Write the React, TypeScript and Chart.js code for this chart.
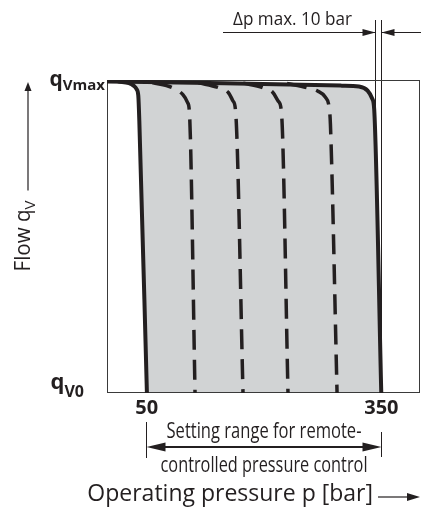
import React, { useEffect, useRef } from 'react';
import { Chart, registerables } from 'chart.js';

Chart.register(...registerables);

// ---------- data ----------
const xMin = 0;
const xMax = 400; // operating pressure, bar
const yMin = 0;
const yMax = 100; // flow, % of qVmax
const xTickValues = [50, 350];
const xTickLabels = ['50', '350'];
const deltaPLines = [342, 350];
const settingRange = [50, 350];

// upper envelope (top line + right solid characteristic)
const envelopeX = [0, 150, 300, 322, 333, 339, 341.5, 350.5];
const envelopeY = [99.5, 99.0, 98.2, 97.9, 96.6, 94.0, 90.5, 0];
// left solid characteristic (minimum setting)
const minCurveX = [15, 28, 34, 38, 40, 41.3, 51];
const minCurveY = [99.5, 99.0, 98.2, 97.0, 95.0, 87.0, 0];
// dashed intermediate settings
const set1X = [58, 84, 97, 103, 105.5, 112.5];
const set1Y = [99.2, 97.5, 95.3, 92.8, 89.0, 0];
const set2X = [117, 142, 155, 161, 164.5, 173.8];
const set2Y = [99.1, 97.6, 96.0, 93.3, 89.5, 0];
const set3X = [174, 199.5, 212, 219, 223, 231.3];
const set3Y = [99.0, 97.5, 96.0, 93.2, 89.5, 0];
const set4X = [230, 255, 269, 279, 284, 285.5, 294];
const set4Y = [98.9, 97.6, 96.5, 94.5, 91.0, 86.0, 0];

// ---------- text ----------
const yTopLabel = ['q', 'Vmax'];
const yBottomLabel = ['q', 'V0'];
const yAxisTitle = ['Flow q', 'V'];
const xAxisTitle = 'Operating pressure p [bar]';
const deltaPText = '\u0394p max. 10 bar';
const settingText = ['Setting range for remote-', 'controlled pressure control'];

const FONT = '"Open Sans", "Liberation Sans", Arial, sans-serif';
const INK = '#231f20';
const GRAY = '#d1d3d4';

const pts = (xs: number[], ys: number[]) => xs.map((x, i) => ({ x, y: ys[i] }));

function trace(ctx: CanvasRenderingContext2D, list: any[], reverse: boolean, first: boolean) {
  const arr = reverse ? [...list].reverse() : list;
  arr.forEach((p: any, i: number) => {
    if (i === 0) {
      if (first) ctx.moveTo(p.x, p.y);
      else ctx.lineTo(p.x, p.y);
      return;
    }
    const q = arr[i - 1];
    if (!reverse) {
      ctx.bezierCurveTo(q.cp2x ?? q.x, q.cp2y ?? q.y, p.cp1x ?? p.x, p.cp1y ?? p.y, p.x, p.y);
    } else {
      ctx.bezierCurveTo(q.cp1x ?? q.x, q.cp1y ?? q.y, p.cp2x ?? p.x, p.cp2y ?? p.y, p.x, p.y);
    }
  });
}

function arrowHead(ctx: CanvasRenderingContext2D, tipX: number, tipY: number, dir: 'l' | 'r' | 'u', len: number, half: number) {
  ctx.beginPath();
  ctx.moveTo(tipX, tipY);
  if (dir === 'r') {
    ctx.lineTo(tipX - len, tipY - half);
    ctx.lineTo(tipX - len, tipY + half);
  } else if (dir === 'l') {
    ctx.lineTo(tipX + len, tipY - half);
    ctx.lineTo(tipX + len, tipY + half);
  } else {
    ctx.lineTo(tipX - half, tipY + len);
    ctx.lineTo(tipX + half, tipY + len);
  }
  ctx.closePath();
  ctx.fill();
}

function subLabel(ctx: CanvasRenderingContext2D, right: number, base: number, parts: string[], mainSize: number, subSize: number, drop: number) {
  const mf = `bold ${mainSize}px ${FONT}`;
  const sf = `bold ${subSize}px ${FONT}`;
  ctx.font = mf;
  const w1 = ctx.measureText(parts[0]).width;
  ctx.font = sf;
  const w2 = ctx.measureText(parts[1]).width;
  const x0 = right - w1 - w2;
  ctx.font = mf;
  ctx.fillText(parts[0], x0, base);
  ctx.font = sf;
  ctx.fillText(parts[1], x0 + w1, base + drop);
}

const annotate = {
  id: 'annotate',
  beforeDatasetsDraw(chart: any) {
    const { ctx, chartArea: a, scales } = chart;
    const xs = scales.x;
    ctx.save();
    ctx.strokeStyle = INK;
    ctx.lineWidth = 1;
    deltaPLines.forEach((v) => {
      const px = Math.round(xs.getPixelForValue(v)) + 0.5;
      ctx.beginPath();
      ctx.moveTo(px, 20);
      ctx.lineTo(px, a.bottom);
      ctx.stroke();
    });
    const up = chart.getDatasetMeta(0);
    const lo = chart.getDatasetMeta(1);
    up.dataset.updateControlPoints(a, 'x');
    lo.dataset.updateControlPoints(a, 'x');
    ctx.beginPath();
    trace(ctx, lo.data, false, true);
    trace(ctx, up.data, true, false);
    ctx.closePath();
    ctx.fillStyle = GRAY;
    ctx.fill();
    ctx.strokeStyle = '#3a3a3a';
    ctx.lineWidth = 1;
    ctx.strokeRect(a.left + 0.5, a.top + 0.5, a.right - a.left - 1, a.bottom - a.top - 1);
    ctx.restore();
  },
  afterDatasetsDraw(chart: any) {
    const { ctx, scales } = chart;
    const xs = scales.x;
    ctx.save();
    ctx.fillStyle = INK;
    ctx.strokeStyle = INK;
    ctx.textBaseline = 'alphabetic';

    // delta p annotation
    const l1 = Math.round(xs.getPixelForValue(deltaPLines[0])) + 0.5;
    const l2 = Math.round(xs.getPixelForValue(deltaPLines[1])) + 0.5;
    ctx.lineWidth = 1;
    ctx.beginPath();
    ctx.moveTo(223, 32.5);
    ctx.lineTo(l1, 32.5);
    ctx.moveTo(l2, 32.5);
    ctx.lineTo(421, 32.5);
    ctx.stroke();
    arrowHead(ctx, l1, 32.5, 'r', 13, 3.5);
    arrowHead(ctx, l2, 32.5, 'l', 13, 3.5);
    ctx.font = `18px ${FONT}`;
    ctx.textAlign = 'left';
    ctx.fillText(deltaPText, 233, 25, 119);

    // y labels
    ctx.textAlign = 'left';
    subLabel(ctx, 105, 86, yTopLabel, 21, 15, 4);
    subLabel(ctx, 84, 389, yBottomLabel, 22, 16, 8);

    // x tick labels
    ctx.font = `bold 20px ${FONT}`;
    ctx.textAlign = 'center';
    xTickValues.forEach((v, i) => {
      ctx.fillText(xTickLabels[i], xs.getPixelForValue(v) + 0.5, 414);
    });

    // setting range arrow
    const s1 = Math.round(xs.getPixelForValue(settingRange[0])) + 0.5;
    const s2 = Math.round(xs.getPixelForValue(settingRange[1])) + 0.5;
    ctx.lineWidth = 1;
    ctx.beginPath();
    ctx.moveTo(s1, 422);
    ctx.lineTo(s1, 458);
    ctx.moveTo(s2, 432);
    ctx.lineTo(s2, 457);
    ctx.stroke();
    ctx.lineWidth = 2;
    ctx.beginPath();
    ctx.moveTo(s1 + 10, 447);
    ctx.lineTo(s2 - 10, 447);
    ctx.stroke();
    arrowHead(ctx, s1, 447, 'l', 19, 4.5);
    arrowHead(ctx, s2, 447, 'r', 19, 4.5);
    ctx.font = `21px ${FONT}`;
    ctx.textAlign = 'center';
    ctx.fillText(settingText[0], 264, 438, 195);
    ctx.fillText(settingText[1], 264, 472, 207);

    // x axis title
    ctx.font = `23px ${FONT}`;
    ctx.textAlign = 'right';
    ctx.fillText(xAxisTitle, 373, 501, 288);
    ctx.lineWidth = 1.2;
    ctx.beginPath();
    ctx.moveTo(378, 497);
    ctx.lineTo(410, 497);
    ctx.stroke();
    arrowHead(ctx, 420, 497, 'r', 13, 4);

    // y axis title (rotated)
    ctx.save();
    ctx.translate(30, 236);
    ctx.rotate(-Math.PI / 2);
    ctx.font = `22px ${FONT}`;
    const w1 = Math.min(ctx.measureText(yAxisTitle[0]).width, 62);
    ctx.font = `15px ${FONT}`;
    const w2 = ctx.measureText(yAxisTitle[1]).width;
    const tot = w1 + w2;
    ctx.textAlign = 'left';
    ctx.font = `22px ${FONT}`;
    ctx.fillText(yAxisTitle[0], -tot / 2, 0, 62);
    ctx.font = `15px ${FONT}`;
    ctx.fillText(yAxisTitle[1], -tot / 2 + w1, 5);
    ctx.restore();
    const topOfText = 236 - tot / 2;
    ctx.lineWidth = 1.2;
    ctx.beginPath();
    ctx.moveTo(28, topOfText - 10);
    ctx.lineTo(28, 90);
    ctx.stroke();
    arrowHead(ctx, 28, 82, 'u', 9, 3.5);

    ctx.restore();
  },
};

export default function App() {
  const ref = useRef<HTMLCanvasElement>(null);
  useEffect(() => {
    const solid = { borderColor: INK, borderWidth: 4, cubicInterpolationMode: 'monotone' as const, fill: false, pointRadius: 0, borderCapStyle: 'round' as const, borderJoinStyle: 'round' as const };
    const dashed = { borderColor: INK, borderWidth: 3.5, cubicInterpolationMode: 'monotone' as const, fill: false, pointRadius: 0, borderDash: [20, 10], borderCapStyle: 'butt' as const };
    const chart = new Chart(ref.current!, {
      type: 'line',
      data: {
        datasets: [
          { ...solid, data: pts(envelopeX, envelopeY) },
          { ...solid, data: pts(minCurveX, minCurveY) },
          { ...dashed, data: pts(set1X, set1Y) },
          { ...dashed, data: pts(set2X, set2Y) },
          { ...dashed, data: pts(set3X, set3Y) },
          { ...dashed, data: pts(set4X, set4Y) },
        ],
      },
      options: {
        responsive: false,
        animation: false,
        devicePixelRatio: 1,
        layout: { padding: { left: 107, top: 80, right: 1, bottom: 120 } },
        scales: {
          x: { type: 'linear', min: xMin, max: xMax, display: false },
          y: { type: 'linear', min: yMin, max: yMax, display: false },
        },
        plugins: { legend: { display: false }, tooltip: { enabled: false } },
      },
      plugins: [annotate],
    });
    return () => chart.destroy();
  }, []);
  return (
    <div style={{ position: 'absolute', left: 0, top: 0 }}>
      <canvas ref={ref} width={421} height={513} style={{ display: 'block' }} />
    </div>
  );
}
